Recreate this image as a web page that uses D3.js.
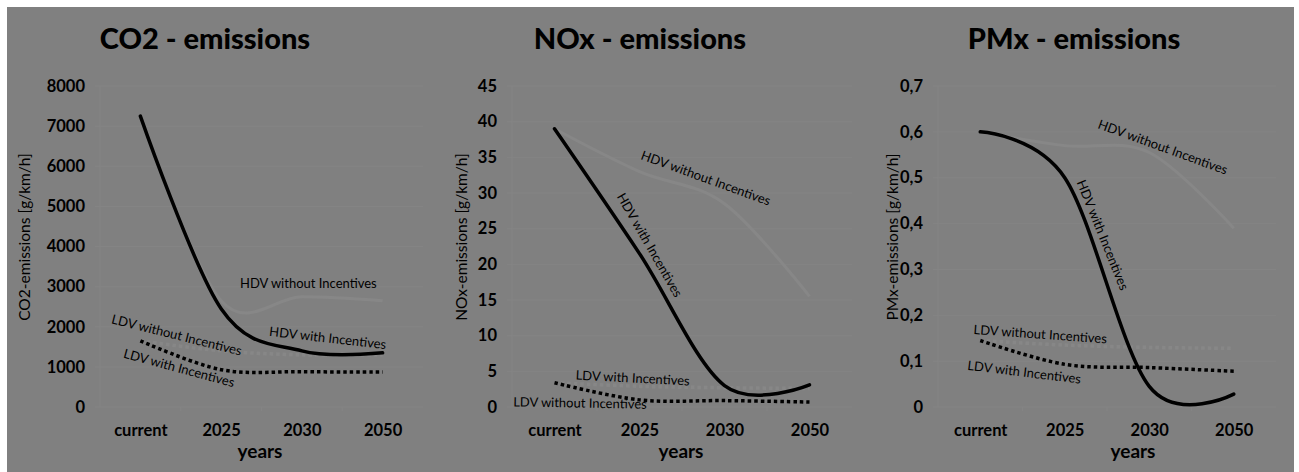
<html>
<head>
  <title>emissions</title>
  <meta charset="utf-8">
</head>
<style>
  body { margin: 0; background: #fff; }
  text { font-family: Lato, "Open Sans", sans-serif; }
</style>
<body>
  <div id="chart"></div>
</body>
<script src="https://cdn.jsdelivr.net/npm/d3@7"></script>
<script>

  const width = 1299
  const height = 472

  // categories
  const years = ["current", "2025", "2030", "2050"]

  // CO2 [g/km/h]
  const co2HdvWith = [7250, 2450, 1400, 1350]
  const co2HdvWithout = [7250, 2650, 2750, 2650]
  const co2LdvWith = [1650, 930, 880, 875]
  const co2LdvWithout = [1650, 1400, 1300, 1300]
  const co2Ticks = [0, 1000, 2000, 3000, 4000, 5000, 6000, 7000, 8000]

  // NOx [g/km/h]
  const noxHdvWith = [39, 21.5, 3, 3.1]
  const noxHdvWithout = [39, 33, 28.5, 15.5]
  const noxLdvWith = [3.4, 1.0, 0.9, 0.7]
  const noxLdvWithout = [3.4, 2.9, 2.7, 2.6]
  const noxTicks = [0, 5, 10, 15, 20, 25, 30, 35, 40, 45]

  // PMx [g/km/h]
  const pmHdvWith = [0.6, 0.5, 0.045, 0.028]
  const pmHdvWithout = [0.6, 0.57, 0.555, 0.39]
  const pmLdvWith = [0.145, 0.093, 0.086, 0.078]
  const pmLdvWithout = [0.145, 0.135, 0.13, 0.128]
  const pmTicks = [0, 0.1, 0.2, 0.3, 0.4, 0.5, 0.6, 0.7]

  const bg = "#808080"
  const faint = "#878787"
  const grid = "#848484"

  const svg = d3.select("#chart")
    .append("svg")
    .attr("width", width)
    .attr("height", height)

  svg.append("rect")
    .attr("x", 7).attr("y", 7)
    .attr("width", 1287).attr("height", height - 7)
    .attr("fill", bg)

  const panels = [
    {
      title: "CO2 - emissions", yTitle: "CO2-emissions [g/km/h]",
      left: 100, right: 423, titleX: 205, yTitleX: 25, yearsX: 260,
      max: 8000, ticks: co2Ticks, fmt: d => d,
      hdvWith: co2HdvWith, hdvWithout: co2HdvWithout,
      ldvWith: co2LdvWith, ldvWithout: co2LdvWithout,
      // label anchors: [category index, value, angle]
      labels: [
        ["HDV without Incentives", 2.08, 3070, 0],
        ["HDV with Incentives", 2.32, 1720, 6.5],
        ["LDV without Incentives", 0.45, 1795, 14],
        ["LDV with Incentives", 0.48, 973, 15]
      ]
    },
    {
      title: "NOx - emissions", yTitle: "NOx-emissions [g/km/h]",
      left: 512, right: 852, titleX: 640, yTitleX: 462, yearsX: 681,
      max: 45, ticks: noxTicks, fmt: d => d,
      hdvWith: noxHdvWith, hdvWithout: noxHdvWithout,
      ldvWith: noxLdvWith, ldvWithout: noxLdvWithout,
      labels: [
        ["HDV without Incentives", 1.78, 32.1, 20],
        ["HDV with Incentives", 1.12, 22.7, 60],
        ["LDV with Incentives", 0.92, 4.07, 3],
        ["LDV without Incentives", 0.3, 0.56, 1]
      ]
    },
    {
      title: "PMx - emissions", yTitle: "PMx-emissions [g/km/h]",
      left: 938, right: 1276, titleX: 1074, yTitleX: 893, yearsX: 1133,
      max: 0.7, ticks: pmTicks,
      fmt: d => d === 0 ? "0" : d.toFixed(1).replace(".", ","),
      hdvWith: pmHdvWith, hdvWithout: pmHdvWithout,
      ldvWith: pmLdvWith, ldvWithout: pmLdvWithout,
      labels: [
        ["HDV without Incentives", 2.16, 0.567, 20],
        ["HDV with Incentives", 1.45, 0.375, 68],
        ["LDV without Incentives", 0.71, 0.159, 4],
        ["LDV with Incentives", 0.52, 0.076, 7]
      ]
    }
  ]

  const plotTop = 86
  const plotBottom = 407

  panels.forEach(p => {
    const g = svg.append("g")

    const x = d3.scalePoint().domain(years).range([p.left, p.right]).padding(0.5)
    const xi = d3.scaleLinear().domain([0, years.length - 1])
      .range([x(years[0]), x(years[years.length - 1])])
    const y = d3.scaleLinear().domain([0, p.max]).range([plotBottom, plotTop])

    // gridlines
    g.selectAll(".grid")
      .data(p.ticks)
      .enter().append("line")
      .attr("x1", p.left - 5).attr("x2", p.right)
      .attr("y1", d => y(d)).attr("y2", d => y(d))
      .attr("stroke", grid).attr("stroke-width", 1)

    // faint y axis line + category separators
    g.append("line")
      .attr("x1", p.left).attr("x2", p.left)
      .attr("y1", plotTop).attr("y2", plotBottom)
      .attr("stroke", grid)
    const step = x.step()
    g.selectAll(".sep")
      .data(years.slice(1))
      .enter().append("line")
      .attr("x1", d => x(d) - step / 2).attr("x2", d => x(d) - step / 2)
      .attr("y1", plotBottom).attr("y2", plotBottom + 4)
      .attr("stroke", grid)

    // y axis labels
    const yAxis = d3.axisLeft(y).tickValues(p.ticks).tickFormat(p.fmt).tickSize(0).tickPadding(0)
    const ya = g.append("g")
      .attr("transform", `translate(${p.left - 15},0)`)
      .call(yAxis)
    ya.select(".domain").remove()
    ya.selectAll("text")
      .attr("fill", "#000")
      .style("font-family", "Lato, sans-serif")
      .style("font-size", "16.5px")
      .style("font-weight", "bold")

    // x axis labels
    const xAxis = d3.axisBottom(x).tickSize(0).tickPadding(0)
    const xa = g.append("g")
      .attr("transform", `translate(0,${plotBottom + 17})`)
      .call(xAxis)
    xa.select(".domain").remove()
    xa.selectAll("text")
      .attr("fill", "#000")
      .style("font-family", "Lato, sans-serif")
      .style("font-size", "16.5px")
      .style("font-weight", "bold")

    // axis titles
    g.append("text")
      .attr("x", p.yearsX).attr("y", 458)
      .attr("text-anchor", "middle")
      .style("font-size", "19px").style("font-weight", "bold")
      .text("years")

    g.append("text")
      .attr("transform", `translate(${p.yTitleX + 5},237) rotate(-90)`)
      .attr("text-anchor", "middle")
      .style("font-size", "15.5px")
      .text(p.yTitle)

    g.append("text")
      .attr("x", p.titleX).attr("y", 49)
      .attr("text-anchor", "middle")
      .style("font-size", "29px").style("font-weight", "900")
      .text(p.title)

    // lines
    const line = d3.line()
      .x((d, i) => x(years[i]))
      .y(d => y(d))
      .curve(d3.curveCardinal.tension(0))

    g.append("path").datum(p.hdvWithout)
      .attr("d", line).attr("fill", "none")
      .attr("stroke", faint).attr("stroke-width", 3)
    g.append("path").datum(p.ldvWithout)
      .attr("d", line).attr("fill", "none")
      .attr("stroke", faint).attr("stroke-width", 3.5)
      .attr("stroke-dasharray", "3.5,3")
    g.append("path").datum(p.ldvWith)
      .attr("d", line).attr("fill", "none")
      .attr("stroke", "#000").attr("stroke-width", 3.5)
      .attr("stroke-dasharray", "3.5,3")
    g.append("path").datum(p.hdvWith)
      .attr("d", line).attr("fill", "none")
      .attr("stroke", "#000").attr("stroke-width", 3.5)
      .attr("stroke-linecap", "round")

    // series labels
    g.selectAll(".lbl")
      .data(p.labels)
      .enter().append("text")
      .attr("transform", d => `translate(${xi(d[1])},${y(d[2])}) rotate(${d[3]})`)
      .attr("text-anchor", "middle")
      .attr("dy", "0.35em")
      .style("font-size", "13px")
      .text(d => d[0])
  })

</script>
</html>
